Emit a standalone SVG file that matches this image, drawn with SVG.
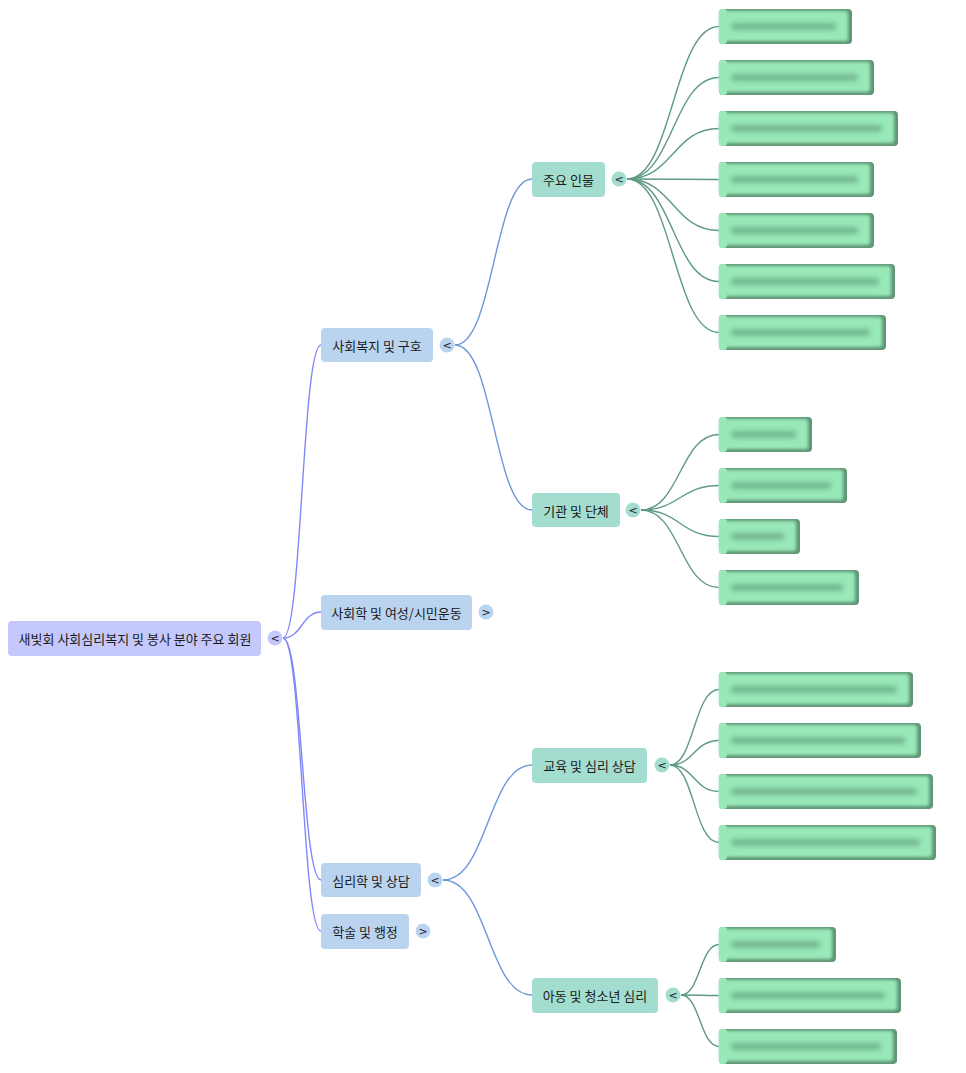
<svg xmlns="http://www.w3.org/2000/svg" width="966" height="1073" viewBox="0 0 966 1073">
<defs>
<style>
text{font-family:"Noto Sans CJK KR","Noto Sans",sans-serif;font-size:13px;fill:#1a1a1a;dominant-baseline:central;text-anchor:middle}
.tg{font-size:11px;font-family:"DejaVu Sans",sans-serif}
.root rect{fill:#c4c8fb}
.root circle{fill:#c4c8fb}
.l1 rect{fill:#bad4f0}
.l1 circle{fill:#bad4f0}
.l2 rect{fill:#a2ddcf}
.l2 circle{fill:#a2ddcf}
.c0{fill:none;stroke:#8088f8;stroke-width:1.4}
.c1{fill:none;stroke:#6b98d8;stroke-width:1.4}
.c2{fill:none;stroke:#5f9a82;stroke-width:1.4}
.lf .sh{fill:#5f9676}
.lf .bd{fill:#98e8b8;filter:url(#bl)}
.lf .lt{fill:#98e8b8}
.lf .tx{fill:#4f8a68;opacity:.5;filter:url(#bt)}
</style>
<filter id="bl" x="-10%" y="-30%" width="120%" height="160%"><feGaussianBlur stdDeviation="1.6"/></filter>
<filter id="bt" x="-10%" y="-150%" width="120%" height="400%"><feGaussianBlur stdDeviation="2.6"/></filter>
</defs>
<g id="connectors">
<path class="c0" d="M283 638 C302 638,302 345,321 345"/>
<path class="c0" d="M283 638 C302 638,302 612,321 612"/>
<path class="c0" d="M283 638 C302 638,302 880,321 880"/>
<path class="c0" d="M283 638 C302 638,302 931,321 931"/>
<path class="c1" d="M455 345 C494 345,494 179,532 179"/>
<path class="c1" d="M455 345 C494 345,494 510,532 510"/>
<path class="c1" d="M443 880 C488 880,488 765,532 765"/>
<path class="c1" d="M443 880 C488 880,488 995,532 995"/>
<path class="c2" d="M627 179 C673 179,673 26.5,719 26.5"/>
<path class="c2" d="M627 179 C673 179,673 77.5,719 77.5"/>
<path class="c2" d="M627 179 C673 179,673 128.5,719 128.5"/>
<path class="c2" d="M627 179 C673 179,673 179.5,719 179.5"/>
<path class="c2" d="M627 179 C673 179,673 230.5,719 230.5"/>
<path class="c2" d="M627 179 C673 179,673 281.5,719 281.5"/>
<path class="c2" d="M627 179 C673 179,673 332.5,719 332.5"/>
<path class="c2" d="M641 510 C680 510,680 434.5,719 434.5"/>
<path class="c2" d="M641 510 C680 510,680 485.5,719 485.5"/>
<path class="c2" d="M641 510 C680 510,680 536.5,719 536.5"/>
<path class="c2" d="M641 510 C680 510,680 587.5,719 587.5"/>
<path class="c2" d="M670 765 C694 765,694 689.5,719 689.5"/>
<path class="c2" d="M670 765 C694 765,694 740.5,719 740.5"/>
<path class="c2" d="M670 765 C694 765,694 791.5,719 791.5"/>
<path class="c2" d="M670 765 C694 765,694 842.5,719 842.5"/>
<path class="c2" d="M681 995 C700 995,700 944.5,719 944.5"/>
<path class="c2" d="M681 995 C700 995,700 995.5,719 995.5"/>
<path class="c2" d="M681 995 C700 995,700 1046.5,719 1046.5"/>
</g>
<g id="root" class="root">
<rect x="8" y="621" width="253" height="35" rx="4"/>
<text x="135" y="638.5">새빛회 사회심리복지 및 봉사 분야 주요 회원</text>
<circle cx="275" cy="638" r="7.5"/><text class="tg" x="275" y="638">&lt;</text>
</g>
<g id="n-welfare" class="l1">
<rect x="321" y="328" width="112" height="34" rx="4"/>
<text x="377" y="345">사회복지 및 구호</text>
<circle cx="447" cy="345" r="7.5"/><text class="tg" x="447" y="345">&lt;</text>
</g>
<g id="n-sociology" class="l1">
<rect x="321" y="595" width="151" height="35" rx="4"/>
<text x="396.5" y="612.5">사회학 및 여성/시민운동</text>
<circle cx="486" cy="612" r="7.5"/><text class="tg" x="486" y="612">&gt;</text>
</g>
<g id="n-psych" class="l1">
<rect x="321" y="863" width="100" height="34" rx="4"/>
<text x="371" y="880">심리학 및 상담</text>
<circle cx="435" cy="880" r="7.5"/><text class="tg" x="435" y="880">&lt;</text>
</g>
<g id="n-academic" class="l1">
<rect x="321" y="914" width="88" height="35" rx="4"/>
<text x="365" y="931">학술 및 행정</text>
<circle cx="423" cy="931" r="7.5"/><text class="tg" x="423" y="931">&gt;</text>
</g>
<g id="n-people" class="l2">
<rect x="532" y="162" width="73" height="35" rx="4"/>
<text x="568.5" y="179">주요 인물</text>
<circle cx="619" cy="179" r="7.5"/><text class="tg" x="619" y="179">&lt;</text>
</g>
<g id="n-org" class="l2">
<rect x="532" y="493" width="88" height="34" rx="4"/>
<text x="576" y="510">기관 및 단체</text>
<circle cx="633" cy="510" r="7.5"/><text class="tg" x="633" y="510">&lt;</text>
</g>
<g id="n-edu" class="l2">
<rect x="532" y="748" width="115" height="35" rx="4"/>
<text x="589.5" y="765">교육 및 심리 상담</text>
<circle cx="662" cy="765" r="7.5"/><text class="tg" x="662" y="765">&lt;</text>
</g>
<g id="n-child" class="l2">
<rect x="532" y="978" width="126" height="35" rx="4"/>
<text x="595" y="995">아동 및 청소년 심리</text>
<circle cx="673" cy="995" r="7.5"/><text class="tg" x="673" y="995">&lt;</text>
</g>
<g id="leaf-1" class="lf"><rect class="sh" x="719" y="9" width="133" height="35" rx="4"/><rect class="bd" x="719" y="11" width="129" height="30" rx="3"/><rect class="lt" x="719" y="9" width="8" height="35" rx="3"/><rect class="tx" x="731" y="23" width="105" height="7" rx="3"/></g>
<g id="leaf-2" class="lf"><rect class="sh" x="719" y="60" width="155" height="35" rx="4"/><rect class="bd" x="719" y="62" width="151" height="30" rx="3"/><rect class="lt" x="719" y="60" width="8" height="35" rx="3"/><rect class="tx" x="731" y="74" width="127" height="7" rx="3"/></g>
<g id="leaf-3" class="lf"><rect class="sh" x="719" y="111" width="179" height="35" rx="4"/><rect class="bd" x="719" y="113" width="175" height="30" rx="3"/><rect class="lt" x="719" y="111" width="8" height="35" rx="3"/><rect class="tx" x="731" y="125" width="151" height="7" rx="3"/></g>
<g id="leaf-4" class="lf"><rect class="sh" x="719" y="162" width="155" height="35" rx="4"/><rect class="bd" x="719" y="164" width="151" height="30" rx="3"/><rect class="lt" x="719" y="162" width="8" height="35" rx="3"/><rect class="tx" x="731" y="176" width="127" height="7" rx="3"/></g>
<g id="leaf-5" class="lf"><rect class="sh" x="719" y="213" width="155" height="35" rx="4"/><rect class="bd" x="719" y="215" width="151" height="30" rx="3"/><rect class="lt" x="719" y="213" width="8" height="35" rx="3"/><rect class="tx" x="731" y="227" width="127" height="7" rx="3"/></g>
<g id="leaf-6" class="lf"><rect class="sh" x="719" y="264" width="176" height="35" rx="4"/><rect class="bd" x="719" y="266" width="172" height="30" rx="3"/><rect class="lt" x="719" y="264" width="8" height="35" rx="3"/><rect class="tx" x="731" y="278" width="148" height="7" rx="3"/></g>
<g id="leaf-7" class="lf"><rect class="sh" x="719" y="315" width="167" height="35" rx="4"/><rect class="bd" x="719" y="317" width="163" height="30" rx="3"/><rect class="lt" x="719" y="315" width="8" height="35" rx="3"/><rect class="tx" x="731" y="329" width="139" height="7" rx="3"/></g>
<g id="leaf-8" class="lf"><rect class="sh" x="719" y="417" width="93" height="35" rx="4"/><rect class="bd" x="719" y="419" width="89" height="30" rx="3"/><rect class="lt" x="719" y="417" width="8" height="35" rx="3"/><rect class="tx" x="731" y="431" width="65" height="7" rx="3"/></g>
<g id="leaf-9" class="lf"><rect class="sh" x="719" y="468" width="128" height="35" rx="4"/><rect class="bd" x="719" y="470" width="124" height="30" rx="3"/><rect class="lt" x="719" y="468" width="8" height="35" rx="3"/><rect class="tx" x="731" y="482" width="100" height="7" rx="3"/></g>
<g id="leaf-10" class="lf"><rect class="sh" x="719" y="519" width="81" height="35" rx="4"/><rect class="bd" x="719" y="521" width="77" height="30" rx="3"/><rect class="lt" x="719" y="519" width="8" height="35" rx="3"/><rect class="tx" x="731" y="533" width="53" height="7" rx="3"/></g>
<g id="leaf-11" class="lf"><rect class="sh" x="719" y="570" width="140" height="35" rx="4"/><rect class="bd" x="719" y="572" width="136" height="30" rx="3"/><rect class="lt" x="719" y="570" width="8" height="35" rx="3"/><rect class="tx" x="731" y="584" width="112" height="7" rx="3"/></g>
<g id="leaf-12" class="lf"><rect class="sh" x="719" y="672" width="194" height="35" rx="4"/><rect class="bd" x="719" y="674" width="190" height="30" rx="3"/><rect class="lt" x="719" y="672" width="8" height="35" rx="3"/><rect class="tx" x="731" y="686" width="166" height="7" rx="3"/></g>
<g id="leaf-13" class="lf"><rect class="sh" x="719" y="723" width="202" height="35" rx="4"/><rect class="bd" x="719" y="725" width="198" height="30" rx="3"/><rect class="lt" x="719" y="723" width="8" height="35" rx="3"/><rect class="tx" x="731" y="737" width="174" height="7" rx="3"/></g>
<g id="leaf-14" class="lf"><rect class="sh" x="719" y="774" width="214" height="35" rx="4"/><rect class="bd" x="719" y="776" width="210" height="30" rx="3"/><rect class="lt" x="719" y="774" width="8" height="35" rx="3"/><rect class="tx" x="731" y="788" width="186" height="7" rx="3"/></g>
<g id="leaf-15" class="lf"><rect class="sh" x="719" y="825" width="217" height="35" rx="4"/><rect class="bd" x="719" y="827" width="213" height="30" rx="3"/><rect class="lt" x="719" y="825" width="8" height="35" rx="3"/><rect class="tx" x="731" y="839" width="189" height="7" rx="3"/></g>
<g id="leaf-16" class="lf"><rect class="sh" x="719" y="927" width="117" height="35" rx="4"/><rect class="bd" x="719" y="929" width="113" height="30" rx="3"/><rect class="lt" x="719" y="927" width="8" height="35" rx="3"/><rect class="tx" x="731" y="941" width="89" height="7" rx="3"/></g>
<g id="leaf-17" class="lf"><rect class="sh" x="719" y="978" width="182" height="35" rx="4"/><rect class="bd" x="719" y="980" width="178" height="30" rx="3"/><rect class="lt" x="719" y="978" width="8" height="35" rx="3"/><rect class="tx" x="731" y="992" width="154" height="7" rx="3"/></g>
<g id="leaf-18" class="lf"><rect class="sh" x="719" y="1029" width="178" height="35" rx="4"/><rect class="bd" x="719" y="1031" width="174" height="30" rx="3"/><rect class="lt" x="719" y="1029" width="8" height="35" rx="3"/><rect class="tx" x="731" y="1043" width="150" height="7" rx="3"/></g>
</svg>
